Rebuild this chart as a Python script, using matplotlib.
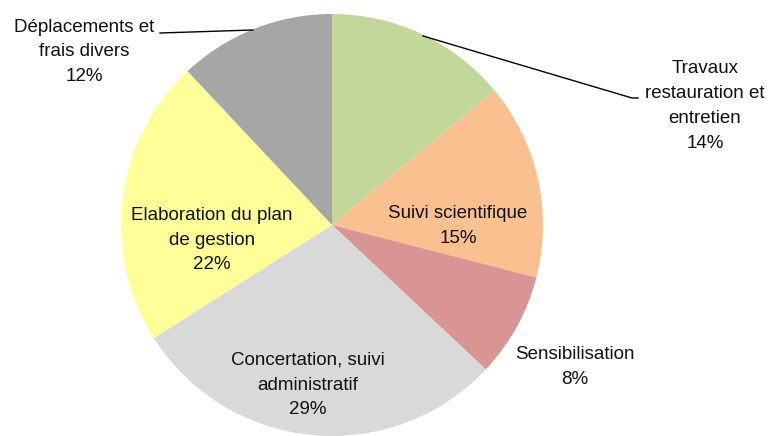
import matplotlib.pyplot as plt

labels = ['Travaux\nrestauration et\nentretien', 'Suivi scientifique', 'Sensibilisation',
          'Concertation, suivi\nadministratif', 'Elaboration du plan\nde gestion',
          'Déplacements et\nfrais divers']
shares = [14, 15, 8, 29, 22, 12]
colors = ['#C4D79B', '#FAC090', '#D99594', '#D9D9D9', '#FFFF99', '#A6A6A6']

# label anchor points (pixels, y from top)
label_pos = [(705, 106), (458, 226), (575, 367), (308, 385), (212, 240), (84, 52)]

plt.rcParams['font.family'] = ['Liberation Sans', 'DejaVu Sans']

fig = plt.figure(figsize=(7.69, 4.36), dpi=100)
ax = fig.add_axes([0, 0, 1, 1])

cx, cy, r = 332, 225, 211
# y axis is inverted, so counterclock=True draws clockwise on screen, starting at the top
ax.pie(shares, colors=colors, startangle=-90, counterclock=True,
       center=(cx, cy), radius=r, frame=True,
       wedgeprops=dict(linewidth=0))
ax.set_xlim(0, 769)
ax.set_ylim(436, 0)
ax.set_aspect('equal')
ax.axis('off')

# leader lines
ax.plot([160, 253], [33, 30], color='black', lw=1)
ax.plot([423, 632, 638], [36, 98, 98], color='black', lw=1)

for lab, s, (x, y) in zip(labels, shares, label_pos):
    ax.text(x, y, f'{lab}\n{s}%', ha='center', va='center', fontsize=13.5,
            linespacing=1.6, color='#111111')

fig.savefig('out.png', dpi=100)
